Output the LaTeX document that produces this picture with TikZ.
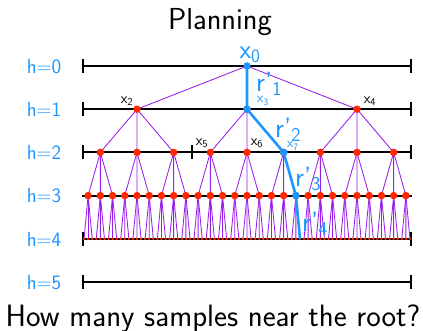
\documentclass[tikz,border=0pt]{standalone}
\usepackage{fontspec}
\usetikzlibrary{arrows.meta}
\definecolor{hblue}{RGB}{30,150,255}
\definecolor{tpurple}{RGB}{155,30,235}
\definecolor{dred}{RGB}{255,40,0}
\tikzset{
  lvl/.style={line width=2bp, black},
  lvltick/.style={lvl, {Bar[width=14bp]}-{Bar[width=14bp]}},
  treeedge/.style={tpurple, line width=0.85bp},
  rdot/.style={circle, fill=dred, inner sep=0pt, minimum size=7.5bp},
  sdot/.style={circle, fill=dred, inner sep=0pt, minimum size=2.8bp},
  bdot/.style={circle, fill=hblue, inner sep=0pt, minimum size=7.5bp},
  bpath/.style={hblue, line width=2.6bp},
  hlab/.style={hblue, font=\fontsize{20.5}{22}\selectfont\sffamily, anchor=base},
  xlab/.style={black, font=\fontsize{15}{16}\selectfont\sffamily, inner sep=0pt},
  xblab/.style={hblue, font=\fontsize{14}{15}\selectfont\sffamily, inner sep=0pt},
  rlab/.style={hblue, font=\fontsize{28}{29}\selectfont\sffamily, inner sep=0pt},
}
\begin{document}
\begin{tikzpicture}[x=1bp, y=-1bp, font=\sffamily]
\useasboundingbox (0,0) rectangle (423,331);
% title and caption
\node[anchor=base, font=\fontsize{30.5}{32}\selectfont\sffamily] (title) at (220,29) {Planning};
\node[anchor=base, font=\fontsize{31}{33}\selectfont\sffamily] (caption) at (213,326) {How many samples near the root?};
% level lines
\foreach \h in {0,...,5} {
  \pgfmathsetmacro{\yy}{66+43.2*\h}
  \coordinate (L\h) at (82,\yy);
  \coordinate (R\h) at (412,\yy);
  \node[hlab] (hl\h) at (44,\yy+7.2) {h=\h};
}
\foreach \h in {0,1,2,4,5} { \draw[lvltick] (L\h) -- (R\h); }
\draw[lvl] (L3) -- (R3);
\coordinate (T2a) at (192,145.4);
\coordinate (T2b) at (192,159.4);
\draw[lvl] (T2a) -- (T2b);
% node positions
\coordinate (n0-1) at (247,66);
\foreach \h/\n in {1/3,2/9,3/27,4/81} {
  \pgfmathsetmacro{\yy}{66+43.2*\h}
  \pgfmathsetmacro{\ww}{330/\n}
  \foreach \k in {1,...,\n} {
    \pgfmathsetmacro{\xx}{82+\ww*(\k-0.5)}
    \coordinate (n\h-\k) at (\xx,\yy);
  }
}
% tree edges
\foreach \h/\n in {1/3,2/9,3/27,4/81} {
  \pgfmathtruncatemacro{\hp}{\h-1}
  \foreach \k in {1,...,\n} {
    \pgfmathtruncatemacro{\pp}{int((\k+2)/3)}
    \draw[treeedge] (n\hp-\pp) -- (n\h-\k);
  }
}
% dots
\foreach \k in {1,...,81} { \node[sdot] at (n4-\k) {}; }
\foreach \h/\n in {1/3,2/9,3/27} {
  \foreach \k in {1,...,\n} { \node[rdot] at (n\h-\k) {}; }
}
% blue path
\draw[bpath] (n0-1) -- (n1-2) -- (n2-6) -- (n3-18) -- (n4-54);
\foreach \c in {n0-1,n1-2,n2-6,n3-18} { \node[bdot] at (\c) {}; }
% labels
\node[hblue, font=\fontsize{27}{28}\selectfont\sffamily, anchor=base] (lx0) at (250,58) {x\textsubscript{0}};
\node[rlab, anchor=base west] (r1) at (256,91) {r'\textsubscript{1}};
\node[rlab, anchor=base west] (r2) at (275,137) {r'\textsubscript{2}};
\node[rlab, anchor=base west] (r3) at (295,186) {r'\textsubscript{3}};
\node[rlab, anchor=base west] (r4) at (302,231) {r'\textsubscript{4}};
\node[xblab] (lx3) at (263,101) {x\textsubscript{3}};
\node[xblab] (lx7) at (293,146) {x\textsubscript{7}};
\node[xlab] (lx2) at (127,101) {x\textsubscript{2}};
\node[xlab] (lx4) at (370,101) {x\textsubscript{4}};
\node[xlab] (lx5) at (202,143) {x\textsubscript{5}};
\node[xlab] (lx6) at (257,143) {x\textsubscript{6}};
\end{tikzpicture}
\end{document}
